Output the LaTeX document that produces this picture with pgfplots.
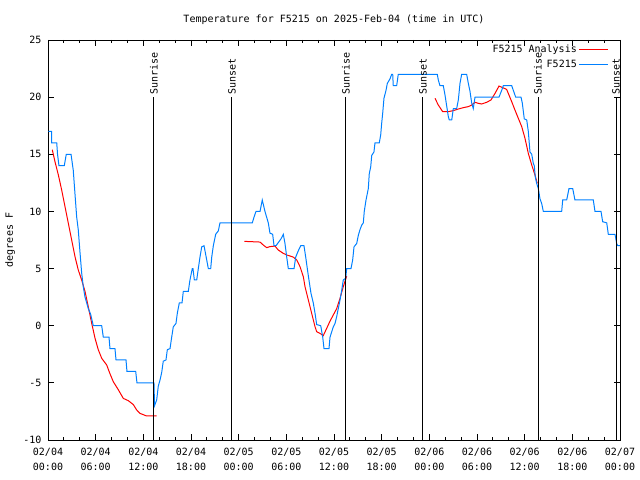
\documentclass[border=0pt]{standalone}
\usepackage{fontspec}
\setmainfont{DejaVu Sans Mono}
\usepackage{pgfplots}
\pgfplotsset{compat=1.18}
\definecolor{obsblue}{RGB}{0,128,255}

\begin{document}
\begin{tikzpicture}
\path[use as bounding box] (-48bp,-40bp) rectangle (592bp,440bp);
\begin{axis}[
  at={(0,0)}, anchor=south west,
  scale only axis, width=572bp, height=400bp,
  xmin=0, xmax=72, ymin=-10, ymax=25,
  clip=false,
  font=\fontsize{10bp}{12bp}\selectfont,
  /pgf/number format/assume math mode=true,
  axis line style={line width=0.8bp},
  every tick/.style={black, line width=0.8bp},
  major tick length=6bp, minor tick length=3bp,
  xtick={0,6,...,72}, minor x tick num=2,
  ytick={-10,-5,...,25},
  xticklabels={{02/04\\00:00},{02/04\\06:00},{02/04\\12:00},{02/04\\18:00},
    {02/05\\00:00},{02/05\\06:00},{02/05\\12:00},{02/05\\18:00},
    {02/06\\00:00},{02/06\\06:00},{02/06\\12:00},{02/06\\18:00},{02/07\\00:00}},
  xticklabel style={align=center, font=\fontsize{10bp}{14.5bp}\selectfont, yshift=-5bp},
  yticklabel style={xshift=-3bp},
  ylabel={degrees F},
  ylabel style={at={(axis description cs:-0.066,0.5)}, anchor=center},
  title={Temperature for F5215 on 2025-Feb-04 (time in UTC)},
  title style={at={(axis description cs:0.5,1.035)}, anchor=center},
  legend style={draw=none, fill=none, at={(1,1)}, anchor=north east,
    xshift=-8bp, yshift=-1bp, row sep=1.5bp, font=\fontsize{10bp}{12bp}\selectfont},
  legend cell align=right, legend plot pos=right,
  legend image code/.code={\draw[#1] (0bp,0bp) -- (29bp,0bp);},
  unbounded coords=jump,
]
% analysis (three runs)
\addplot[red, line width=1bp, sharp plot] coordinates {
(0.54,15.4) (0.88,14.35) (1.30,13.2) (1.72,11.88) (2.14,10.42) (2.56,8.96)
(2.98,7.5) (3.40,6.04) (3.81,4.88) (4.24,4.0) (4.66,3.0) (5.07,1.66)
(5.50,0.21) (5.92,-1.1) (6.33,-2.1) (6.76,-2.85) (7.39,-3.44) (7.80,-4.2)
(8.22,-4.9) (8.85,-5.6) (9.48,-6.36) (10.11,-6.56) (10.74,-6.9) (11.16,-7.37)
(11.58,-7.67) (12.42,-7.9) (13.68,-7.9)
(18,nan)
(24.71,7.38) (26.69,7.32) (27.10,7.06) (27.53,6.83) (27.94,6.92) (28.57,6.97)
(28.99,6.62) (29.62,6.33) (30.05,6.19) (30.46,6.1) (30.88,6.0) (31.31,5.75)
(31.72,5.17) (32.14,4.29) (32.35,3.42) (32.77,2.25) (33.19,1.08) (33.61,-0.08)
(33.82,-0.52) (34.24,-0.67) (34.65,-0.87) (35.08,-0.23) (35.50,0.4) (35.91,0.94)
(36.34,1.5) (36.76,2.4) (37.17,3.42) (37.60,4.35)
(42,nan)
(48.71,19.9) (49.13,19.31) (49.68,18.73) (50.39,18.73) (51.02,18.82) (51.65,18.96)
(52.28,19.08) (52.91,19.17) (53.33,19.31) (53.75,19.55) (54.16,19.46) (54.59,19.4)
(55.22,19.55) (55.76,19.75) (56.27,20.33) (56.77,20.97) (57.24,20.83) (57.73,20.68)
(57.94,20.33) (58.37,19.6) (58.78,18.87) (59.20,18.15) (59.63,17.42) (60.04,16.4)
(60.46,15.08) (60.89,14.06) (61.30,13.19) (61.59,12.46)
};
\addlegendentry{F5215 Analysis}
% observations
\addplot[obsblue, line width=1bp, sharp plot] coordinates {
(0.04,17) (0.47,17) (0.47,16) (1.10,16) (1.20,15) (1.38,14) (2.05,14) (2.30,15)
(2.90,15) (3.18,13.6) (3.40,11.5) (3.61,9.5) (3.81,8.4) (4.03,6.4) (4.24,4.6)
(4.44,3.4) (4.66,2.5) (4.87,2) (5.07,1.5) (5.37,1) (5.70,0) (6.76,0) (6.96,-1)
(7.68,-1) (7.80,-2) (8.43,-2) (8.56,-3) (9.82,-3) (9.94,-4) (11.04,-4) (11.20,-5)
(13.34,-5) (13.41,-7) (13.68,-6.5) (13.88,-5.3) (14.10,-4.75) (14.31,-4.1)
(14.51,-3.1) (14.85,-3) (15.02,-2.1) (15.36,-2) (15.57,-1) (15.77,-0.1) (16.11,0.2)
(16.28,1.1) (16.53,2) (16.87,2) (17.03,3) (17.66,3) (17.87,4) (18.16,5) (18.25,5)
(18.42,4) (18.72,4) (18.92,5) (19.13,6) (19.35,6.9) (19.64,7) (19.98,5.75)
(20.18,5) (20.48,5) (20.61,6) (20.81,7) (21.11,8) (21.44,8.3) (21.65,9)
(25.72,9) (25.93,9.5) (26.18,10) (26.69,10) (26.97,11) (27.31,10) (27.73,9)
(27.94,8.1) (28.28,8) (28.45,7) (28.70,7) (29.33,7.6) (29.62,8) (29.83,7.2)
(30.05,6) (30.25,5) (30.97,5) (31.18,6) (31.47,6.5) (31.81,7) (32.22,7) (32.44,6)
(32.64,5) (32.85,4) (33.10,2.85) (33.39,2) (33.61,1.1) (33.82,0.1) (34.33,0)
(34.58,-1) (34.74,-2) (35.37,-2) (35.50,-1) (35.91,-0.1) (36.13,0.2) (36.34,0.8)
(36.54,1.5) (36.76,2.25) (36.97,3.1) (37.17,4) (37.47,4.15) (37.60,5) (38.14,5)
(38.35,5.75) (38.52,6.9) (38.86,7.2) (39.06,7.9) (39.27,8.4) (39.49,8.8) (39.69,9)
(39.81,10) (40.03,11) (40.32,12) (40.44,13.3) (40.62,13.9) (40.75,14.9) (41.03,15.2)
(41.16,16) (41.70,16) (41.88,16.7) (42.00,17.7) (42.13,18.6) (42.29,19.9)
(42.55,20.6) (42.71,21.2) (43.05,21.6) (43.26,22) (43.39,22) (43.46,21) (43.89,21)
(44.09,22) (49.00,22) (49.13,21.5) (49.34,21) (49.76,21) (49.97,20.2) (50.19,19.2)
(50.39,18.3) (50.51,18) (50.82,18) (51.02,19) (51.44,19) (51.65,19.75) (51.86,21.2)
(52.07,22) (52.70,22) (52.91,21.2) (53.12,20.5) (53.33,19.5) (53.53,19) (53.75,20)
(56.77,20) (57.11,20.6) (57.31,21) (58.37,21) (58.57,20.6) (58.87,20) (59.54,20)
(59.70,19.5) (59.95,18.1) (60.26,18) (60.46,17) (60.67,15.2) (60.89,15) (61.09,14.2)
(61.21,14) (61.34,13) (61.51,12.46) (61.72,12) (61.93,11.1) (62.14,10.7) (62.35,10)
(64.66,10) (64.79,11) (65.29,11) (65.58,12) (66.05,12) (66.33,11) (68.64,11)
(68.85,10) (69.61,10) (69.82,9.1) (70.33,9) (70.53,8) (71.37,8) (71.58,7.2)
(71.71,7) (72.00,7)
};
\addlegendentry{F5215}
% sunrise / sunset markers
\addplot[black, line width=1bp, forget plot] coordinates {(13.34,-10) (13.34,20)};
\addplot[black, line width=1bp, forget plot] coordinates {(23.16,-10) (23.16,20)};
\addplot[black, line width=1bp, forget plot] coordinates {(37.51,-10) (37.51,20)};
\addplot[black, line width=1bp, forget plot] coordinates {(47.20,-10) (47.20,20)};
\addplot[black, line width=1bp, forget plot] coordinates {(61.68,-10) (61.68,20)};
\addplot[black, line width=1bp, forget plot] coordinates {(71.50,-10) (71.50,20)};
\node[rotate=90, anchor=west, inner sep=2bp] at (axis cs:13.34,20) {Sunrise};
\node[rotate=90, anchor=west, inner sep=2bp] at (axis cs:23.16,20) {Sunset};
\node[rotate=90, anchor=west, inner sep=2bp] at (axis cs:37.51,20) {Sunrise};
\node[rotate=90, anchor=west, inner sep=2bp] at (axis cs:47.20,20) {Sunset};
\node[rotate=90, anchor=west, inner sep=2bp] at (axis cs:61.68,20) {Sunrise};
\node[rotate=90, anchor=west, inner sep=2bp] at (axis cs:71.50,20) {Sunset};
\end{axis}
\end{tikzpicture}
\end{document}
